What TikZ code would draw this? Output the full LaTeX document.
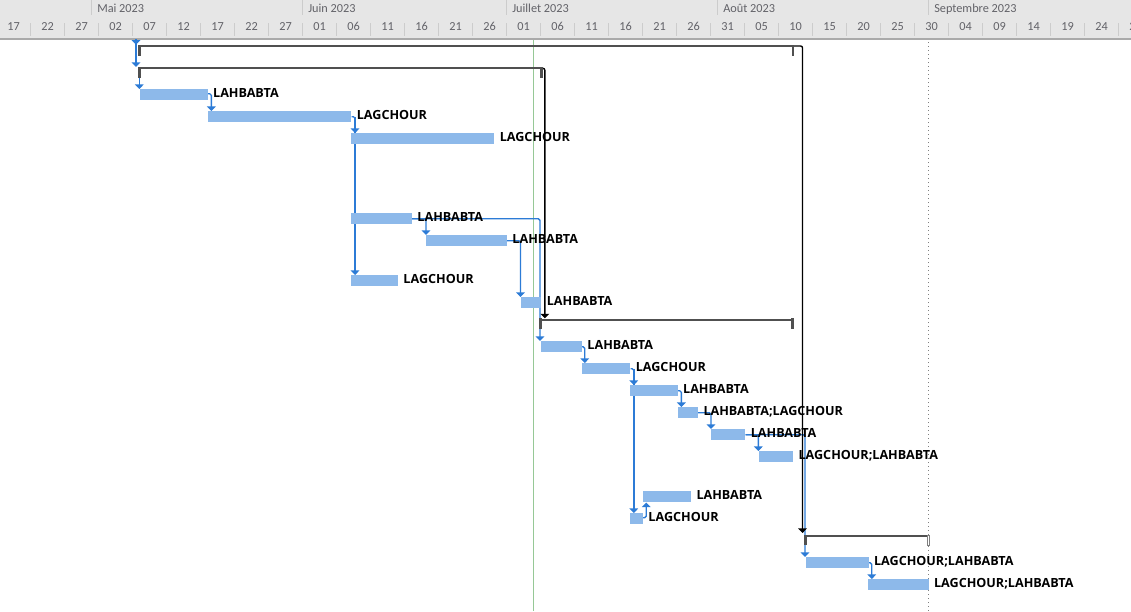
\documentclass[tikz,border=0pt]{standalone}
\usepackage{fontspec}
\setmainfont{Open Sans}
\newfontfamily\hdrfont{Carlito}
\usetikzlibrary{arrows.meta}
\definecolor{barblue}{RGB}{141,185,234}
\definecolor{linkblue}{RGB}{44,123,214}
\definecolor{sumgray}{RGB}{80,80,80}
\definecolor{hdrbg}{RGB}{230,230,230}
\definecolor{hdrline}{RGB}{170,170,170}
\definecolor{tickc}{RGB}{204,204,204}
\definecolor{hdrtext}{RGB}{98,98,104}
\definecolor{todaygreen}{RGB}{150,200,150}
\pgfdeclarelayer{bg}
\pgfsetlayers{bg,main}
\begin{document}
\begin{tikzpicture}[x=0.75pt,y=-0.75pt,
  bar/.style={rectangle, fill=barblue, draw=none, inner sep=0, minimum height=8.25pt, anchor=north west},
  sumbar/.style={rectangle, fill=sumgray, draw=none, inner sep=0, minimum height=1.5pt, anchor=north west},
  lbl/.style={font=\fontsize{9.45pt}{11pt}\selectfont\bfseries, text=black, inner sep=0, anchor=base west},
  hdr/.style={font=\hdrfont\fontsize{9.2pt}{11pt}\selectfont, text=hdrtext, inner sep=0},
  link/.style={draw=linkblue, line width=1pt, -{Triangle[width=6.4pt,length=3.4pt]}, rounded corners=1.2pt},
  slink/.style={draw=black, line width=1pt, -{Triangle[width=6.4pt,length=3.4pt]}, rounded corners=1.5pt},
  tick/.style={draw=tickc, line width=0.75pt},
]
\useasboundingbox (0,0) rectangle (1131,611);
\begin{pgfonlayer}{bg}
\fill[white] (0,0) rectangle (1131,611);
\begin{scope}
\clip (0,0) rectangle (1131,41);
\fill[hdrbg] (0,0) rectangle (1131,38.5);
\fill[hdrline] (0,38.3) rectangle (1131,40);
\foreach \k in {1,...,33} {\draw[tick] (-3.3+34*\k,23) -- (-3.3+34*\k,36);}
\foreach \mx in {91.7,302.7,506.7,717.5,928.3} {\draw[tick] (\mx,0) -- (\mx,15);}
\foreach \lab [count=\k from 0] in {17,22,27,02,07,12,17,22,27,01,06,11,16,21,26,01,06,11,16,21,26,31,05,10,15,20,25,30,04,09,14,19,24,29}
  {\node[hdr, anchor=base] (d\k) at (13.7+34*\k,30.7) {\lab};}
\node[hdr, anchor=base west] (mai) at (97,12.7) {Mai 2023};
\node[hdr, anchor=base west] (juin) at (308,12.7) {Juin 2023};
\node[hdr, anchor=base west] (juil) at (512,12.7) {Juillet 2023};
\node[hdr, anchor=base west] (aout) at (723,12.7) {Août 2023};
\node[hdr, anchor=base west] (sept) at (934,12.7) {Septembre 2023};
\end{scope}
\draw[todaygreen, line width=0.75pt] (533.3,40) -- (533.3,611);
\draw[gray, line width=0.75pt, dash pattern=on 0.75pt off 2.25pt] (928.3,42) -- (928.3,611);
\end{pgfonlayer}

% summary bars
\node[sumbar, minimum width=491.55pt] (r1) at (138.3,44.7) {};
\node[sumbar, minimum width=302.8pt] (r2) at (138.3,67) {};
\node[sumbar, minimum width=190.7pt] (r10) at (539,318.3) {};
\node[sumbar, minimum width=94pt] (r19) at (804,535) {};
\foreach \r in {r1,r2,r10} {
  \fill[sumgray] (\r.north west) rectangle ++(2.7,10.8);
  \fill[sumgray] (\r.north east) rectangle ++(-2.7,10.8);
}
\fill[sumgray] (r19.north west) rectangle ++(2.7,10.3);
\filldraw[draw=gray, fill=white, line width=0.6pt] ([xshift=-1.9pt]r19.north east) rectangle ++(2.4,10.3);

% task bars
\node[bar, minimum width=50.5pt] (t3) at (140,89) {};
\node[bar, minimum width=107.5pt] (t4) at (207.7,111) {};
\node[bar, minimum width=107.25pt] (t5) at (351,133) {};
\node[bar, minimum width=45.5pt] (t6) at (351,213) {};
\node[bar, minimum width=60.5pt] (t7) at (426,235) {};
\node[bar, minimum width=35pt] (t8) at (351,275) {};
\node[bar, minimum width=15pt] (t9) at (521,297) {};
\node[bar, minimum width=30.5pt] (t11) at (541,341) {};
\node[bar, minimum width=36pt] (t12) at (582,363) {};
\node[bar, minimum width=35.5pt] (t13) at (630,385) {};
\node[bar, minimum width=15.3pt] (t14) at (677.3,407) {};
\node[bar, minimum width=25.5pt] (t15) at (711,429) {};
\node[bar, minimum width=25.3pt] (t16) at (759,451) {};
\node[bar, minimum width=35.8pt] (t17) at (643,491) {};
\node[bar, minimum width=9.5pt] (t18) at (630,513) {};
\node[bar, minimum width=46.7pt] (t20) at (806,557) {};
\node[bar, minimum width=45.2pt] (t21) at (868,579) {};

% labels
\node[lbl] (l3) at ([shift={(5,2.5)}]t3.east) {LAHBABTA};
\node[lbl] (l4) at ([shift={(5,2.5)}]t4.east) {LAGCHOUR};
\node[lbl] (l5) at ([shift={(5,2.5)}]t5.east) {LAGCHOUR};
\node[lbl] (l6) at ([shift={(5,2.5)}]t6.east) {LAHBABTA};
\node[lbl] (l7) at ([shift={(5,2.5)}]t7.east) {LAHBABTA};
\node[lbl] (l8) at ([shift={(5,2.5)}]t8.east) {LAGCHOUR};
\node[lbl] (l9) at ([shift={(5,2.5)}]t9.east) {LAHBABTA};
\node[lbl] (l11) at ([shift={(5,2.5)}]t11.east) {LAHBABTA};
\node[lbl] (l12) at ([shift={(5,2.5)}]t12.east) {LAGCHOUR};
\node[lbl] (l13) at ([shift={(5,2.5)}]t13.east) {LAHBABTA};
\node[lbl] (l14) at ([shift={(5,2.5)}]t14.east) {LAHBABTA;LAGCHOUR};
\node[lbl] (l15) at ([shift={(5,2.5)}]t15.east) {LAHBABTA};
\node[lbl] (l16) at ([shift={(5,2.5)}]t16.east) {LAGCHOUR;LAHBABTA};
\node[lbl] (l17) at ([shift={(5,2.5)}]t17.east) {LAHBABTA};
\node[lbl] (l18) at ([shift={(5,2.5)}]t18.east) {LAGCHOUR};
\node[lbl] (l20) at ([shift={(5,2.5)}]t20.east) {LAGCHOUR;LAHBABTA};
\node[lbl] (l21) at ([shift={(5,2.5)}]t21.east) {LAGCHOUR;LAHBABTA};

% connectors (behind bars and labels)
\begin{pgfonlayer}{bg}
\coordinate (in0) at (136,39);
\draw[link] (in0) -- (in0 |- r1.north);
\draw[link] (in0) -- (in0 |- r2.north);
\coordinate (c3) at ([xshift=-0.5pt]t3.north west);
\draw[link] (c3 |- r2.south) -- (c3);
\draw[link] ([yshift=0.75pt]t3.east) -- ++(3.5,0) coordinate (k34) -- (k34 |- t4.north);
\draw[link] (t4.east) -- ++(3.5,0) coordinate (k45) -- (k45 |- t5.north);
\draw[link] (k45) -- (k45 |- t8.north);
\draw[link] (t6.east) -| (t7.north west);
\coordinate (c11) at ([xshift=-0.75pt]t11.north west);
\draw[link] (t6.east) -| (c11);
\coordinate (c9) at ([xshift=-0.4pt]t9.north west);
\draw[link] (t7.east) -| (c9);
\draw[link] (t11.east) -- ++(2.6,0) coordinate (k1112) -- (k1112 |- t12.north);
\draw[link] (t12.east) -- ++(3.3,0) coordinate (k1213) -- (k1213 |- t13.north);
\draw[link] (k1213) -- (k1213 |- t18.north);
\draw[link] (t13.east) -- ++(3.5,0) coordinate (k1314) -- (k1314 |- t14.north);
\draw[link] (t14.east) -| (t15.north west);
\coordinate (c16) at ([xshift=-0.5pt]t16.north west);
\draw[link] (t15.east) -| (c16);
\coordinate (c20) at ([xshift=-0.75pt]t20.north west);
\draw[link] (t15.east) -| (c20);
\draw[link] ([yshift=0.75pt]t18.east) -- ++(3,0) coordinate (k1817) -- (k1817 |- t17.south);
\draw[link] (t20.east) -- ++(3,0) coordinate (k2021) -- (k2021 |- t21.north);
% summary links
\draw[slink] (r2.east) -- ++(2.3,0) coordinate (k210) -- (k210 |- r10.north);
\coordinate (c19) at ([yshift=1.5pt]r19.north west);
\draw[slink] (r1.east) -- ++(8.3,0) coordinate (k119) -- (k119 |- c19);
\end{pgfonlayer}
\end{tikzpicture}
\end{document}
